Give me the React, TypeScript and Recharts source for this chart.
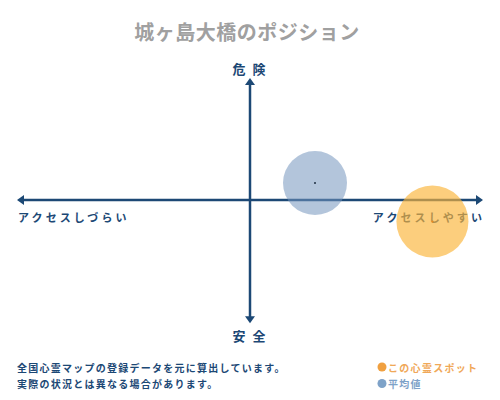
import React from "react";
import { ScatterChart, Scatter, XAxis, YAxis, ReferenceLine } from "recharts";

const title = "城ヶ島大橋のポジション";
const axisTop = "危 険";
const axisBottom = "安 全";
const axisLeft = "アクセスしづらい";
const axisRight = "アクセスしやすい";
const notes = ["全国心霊マップの登録データを元に算出しています。", "実際の状況とは異なる場合があります。"];
const legendNames = ["この心霊スポット", "平均値"];

const averagePoint = [{ x: 0.279, y: 0.139 }];
const spotPoint = [{ x: 0.783, y: -0.176 }];

const NAVY = "#1c4875";
const FONT = "'Noto Sans CJK JP', sans-serif";

const arrowLine = (dir: "h" | "v") => (props: any) => {
  const { x1, y1, x2, y2 } = props;
  const s = 5;
  if (dir === "h") {
    const y = y1;
    return (
      <g>
        <line x1={x1 + 4} y1={y} x2={x2 - 4} y2={y2} stroke={NAVY} strokeWidth={2.5} />
        <polygon points={`${x1},${y} ${x1 + 7},${y - s} ${x1 + 7},${y + s}`} fill={NAVY} />
        <polygon points={`${x2},${y} ${x2 - 7},${y - s} ${x2 - 7},${y + s}`} fill={NAVY} />
      </g>
    );
  }
  const x = x1;
  const top = Math.min(y1, y2);
  const bot = Math.max(y1, y2);
  return (
    <g>
      <line x1={x} y1={top + 4} x2={x2} y2={bot - 4} stroke={NAVY} strokeWidth={2.5} />
      <polygon points={`${x},${top} ${x - s},${top + 7} ${x + s},${top + 7}`} fill={NAVY} />
      <polygon points={`${x},${bot} ${x - s},${bot - 7} ${x + s},${bot - 7}`} fill={NAVY} />
    </g>
  );
};

const bubble = (fill: string, opacity: number, r: number, dot: string) => (props: any) => {
  const { cx, cy } = props;
  return (
    <g>
      <circle cx={cx} cy={cy} r={r} fill={fill} fillOpacity={opacity} />
      <circle cx={cx} cy={cy} r={1} fill={dot} />
    </g>
  );
};

export default function App() {
  return (
    <div style={{ width: 500, height: 400, position: "relative", margin: -8, background: "#fff" }}>
      <ScatterChart width={500} height={400} margin={{ top: 78, right: 17, bottom: 78, left: 17 }}>
        <XAxis type="number" dataKey="x" domain={[-1, 1]} hide />
        <YAxis type="number" dataKey="y" domain={[-1, 1]} hide />
        <text x={247} y={31} textAnchor="middle" dominantBaseline="central" fontFamily={FONT} fontWeight="bold" fontSize={20} fill="#a0a0a0" letterSpacing={0.5}>
          {title}
        </text>
        <text x={250} y={68} textAnchor="middle" dominantBaseline="central" fontFamily={FONT} fontWeight="bold" fontSize={13} fill={NAVY} letterSpacing={2}>
          {axisTop}
        </text>
        <text x={250} y={335} textAnchor="middle" dominantBaseline="central" fontFamily={FONT} fontWeight="bold" fontSize={13} fill={NAVY} letterSpacing={2}>
          {axisBottom}
        </text>
        <text x={18} y={217} textAnchor="start" dominantBaseline="central" fontFamily={FONT} fontWeight="bold" fontSize={11} fill={NAVY} letterSpacing={3.1}>
          {axisLeft}
        </text>
        <text x={485} y={217} textAnchor="end" dominantBaseline="central" fontFamily={FONT} fontWeight="bold" fontSize={11} fill={NAVY} letterSpacing={3.1}>
          {axisRight}
        </text>
        <ReferenceLine segment={[{ x: -1, y: 0 }, { x: 1, y: 0 }]} shape={arrowLine("h")} ifOverflow="visible" />
        <ReferenceLine segment={[{ x: 0, y: 1 }, { x: 0, y: -1.01 }]} shape={arrowLine("v")} ifOverflow="visible" />
        <Scatter data={averagePoint} isAnimationActive={false} shape={bubble("#7596bd", 0.55, 32, "#1c2c40")} />
        <Scatter data={spotPoint} isAnimationActive={false} shape={bubble("#fbb53a", 0.66, 36, "#f08a1c")} />
        {notes.map((n, i) => (
          <text key={i} x={17} y={367 + i * 16.5} dominantBaseline="central" fontFamily={FONT} fontWeight="bold" fontSize={10} fill={NAVY} letterSpacing={1.25}>
            {n}
          </text>
        ))}
        <circle cx={382} cy={367} r={4.5} fill="#f0a040" />
        <text x={388} y={367} dominantBaseline="central" fontFamily={FONT} fontWeight="bold" fontSize={10} fill="#f0a858" letterSpacing={1.3}>
          {legendNames[0]}
        </text>
        <circle cx={382} cy={383.5} r={4.5} fill="#7ea2c8" />
        <text x={388} y={383.5} dominantBaseline="central" fontFamily={FONT} fontWeight="bold" fontSize={10} fill="#7ea2c8" letterSpacing={1.3}>
          {legendNames[1]}
        </text>
      </ScatterChart>
    </div>
  );
}
